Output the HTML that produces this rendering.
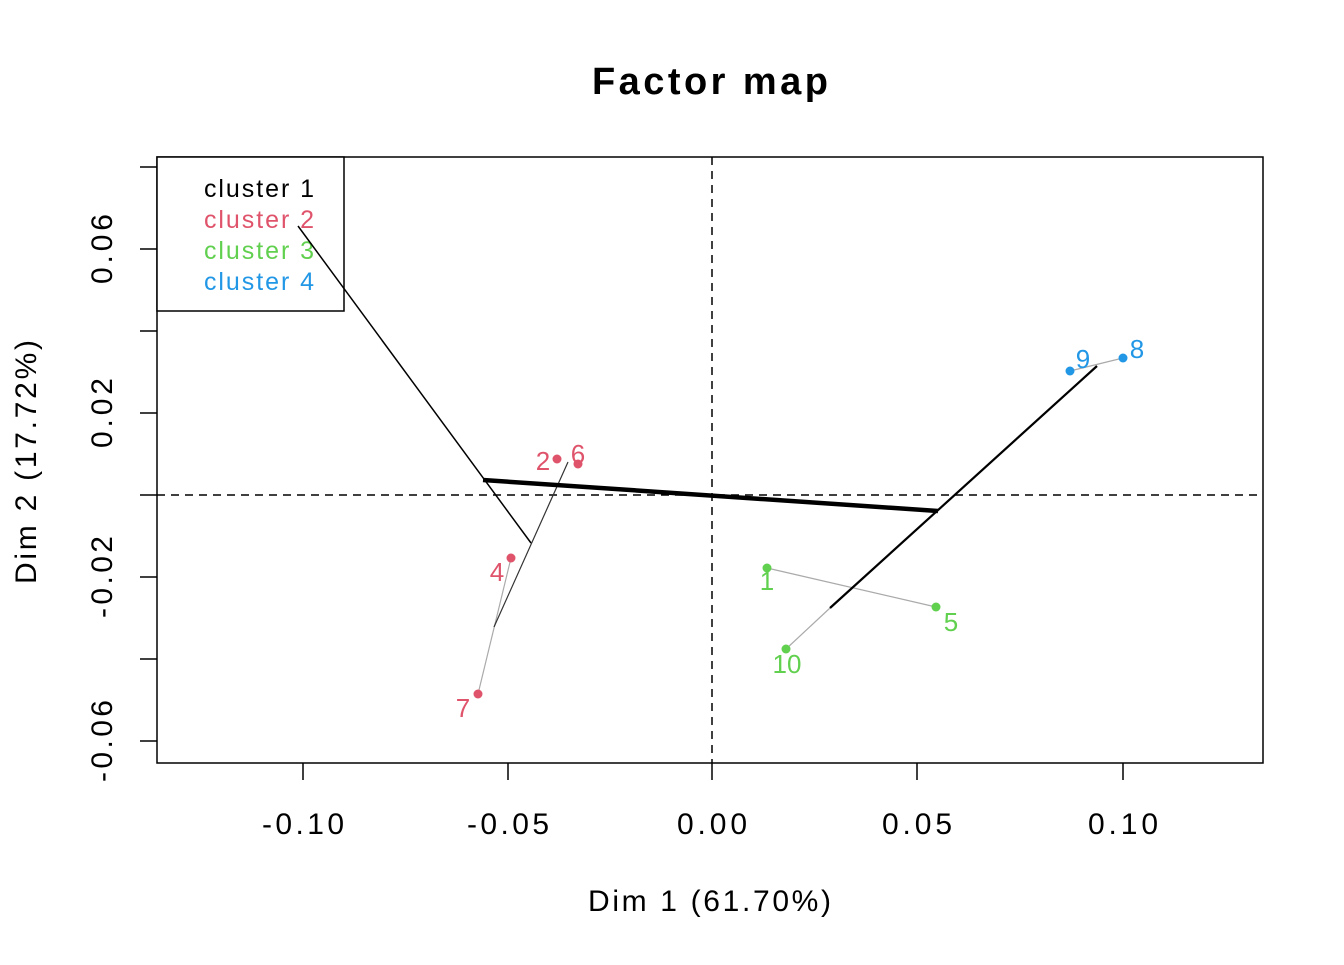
<!DOCTYPE html>
<html><head><meta charset="utf-8"><style>html,body{margin:0;padding:0;background:#fff}</style></head><body>
<svg width="1344" height="960" xmlns="http://www.w3.org/2000/svg" font-family="Liberation Sans, sans-serif">
<rect width="1344" height="960" fill="#fff"/>
<text x="592" y="94" font-size="38" font-weight="bold" textLength="236" lengthAdjust="spacing">Factor map</text>
<rect x="157" y="157" width="1106" height="606" fill="none" stroke="#000" stroke-width="1.5"/>
<line x1="712" y1="157" x2="712" y2="763" stroke="#000" stroke-width="1.5" stroke-dasharray="8,6"/>
<line x1="157" y1="495" x2="1263" y2="495" stroke="#000" stroke-width="1.5" stroke-dasharray="8,6"/>
<g stroke="#000" stroke-width="1.5">
<line x1="303" y1="763" x2="303" y2="780"/><line x1="508" y1="763" x2="508" y2="780"/><line x1="712" y1="763" x2="712" y2="780"/><line x1="917" y1="763" x2="917" y2="780"/><line x1="1123" y1="763" x2="1123" y2="780"/>
<line x1="140" y1="167" x2="157" y2="167"/><line x1="140" y1="249" x2="157" y2="249"/><line x1="140" y1="331" x2="157" y2="331"/><line x1="140" y1="413" x2="157" y2="413"/><line x1="140" y1="495" x2="157" y2="495"/><line x1="140" y1="577" x2="157" y2="577"/><line x1="140" y1="659" x2="157" y2="659"/><line x1="140" y1="741" x2="157" y2="741"/>
</g>
<g font-size="30">
<text x="262" y="834" textLength="82" lengthAdjust="spacing">-0.10</text>
<text x="467" y="834" textLength="82" lengthAdjust="spacing">-0.05</text>
<text x="677" y="834" textLength="70" lengthAdjust="spacing">0.00</text>
<text x="882" y="834" textLength="70" lengthAdjust="spacing">0.05</text>
<text x="1088" y="834" textLength="70" lengthAdjust="spacing">0.10</text>
<text transform="translate(112,284) rotate(-90)" textLength="70" lengthAdjust="spacing">0.06</text>
<text transform="translate(112,448) rotate(-90)" textLength="70" lengthAdjust="spacing">0.02</text>
<text transform="translate(112,618) rotate(-90)" textLength="82" lengthAdjust="spacing">-0.02</text>
<text transform="translate(112,782) rotate(-90)" textLength="82" lengthAdjust="spacing">-0.06</text>
<text x="588" y="911" textLength="243" lengthAdjust="spacing">Dim 1 (61.70%)</text>
<text transform="translate(36,584) rotate(-90)" textLength="244" lengthAdjust="spacing">Dim 2 (17.72%)</text>
</g>
<rect x="157" y="157" width="187" height="154" fill="#fff" stroke="#000" stroke-width="1.5"/>
<g font-size="25">
<text x="204" y="197" fill="#000" textLength="110" lengthAdjust="spacing">cluster 1</text>
<text x="204" y="228" fill="#DF536B" textLength="110" lengthAdjust="spacing">cluster 2</text>
<text x="204" y="259" fill="#61D04F" textLength="110" lengthAdjust="spacing">cluster 3</text>
<text x="204" y="290" fill="#2297E6" textLength="110" lengthAdjust="spacing">cluster 4</text>
</g>
<g stroke="#aaa" stroke-width="1.2">
<line x1="511" y1="558" x2="478" y2="694"/>
<line x1="767" y1="568" x2="936" y2="607"/>
<line x1="786" y1="649" x2="830" y2="608"/>
<line x1="1070" y1="371" x2="1123" y2="358"/>
</g>
<line x1="298" y1="226" x2="531" y2="543" stroke="#000" stroke-width="1.5"/>
<line x1="494" y1="627" x2="568" y2="462" stroke="#333" stroke-width="1.2"/>
<line x1="830" y1="608" x2="1097" y2="366" stroke="#000" stroke-width="2.2"/>
<line x1="483" y1="480" x2="938" y2="511" stroke="#000" stroke-width="4.5"/>
<g fill="#DF536B"><circle cx="557" cy="459" r="4.5"/><circle cx="578" cy="464" r="4.5"/><circle cx="511" cy="558" r="4.5"/><circle cx="478" cy="694" r="4.5"/></g>
<g fill="#61D04F"><circle cx="767" cy="568" r="4.5"/><circle cx="936" cy="607" r="4.5"/><circle cx="786" cy="649" r="4.5"/></g>
<g fill="#2297E6"><circle cx="1070" cy="371" r="4.5"/><circle cx="1123" cy="358" r="4.5"/></g>
<g font-size="26" text-anchor="middle">
<text x="543" y="470" fill="#DF536B">2</text><text x="578" y="463" fill="#DF536B">6</text>
<text x="497" y="581" fill="#DF536B">4</text><text x="463" y="717" fill="#DF536B">7</text>
<text x="767" y="590" fill="#61D04F">1</text><text x="951" y="631" fill="#61D04F">5</text><text x="787" y="673" fill="#61D04F">10</text>
<text x="1083" y="368" fill="#2297E6">9</text><text x="1137" y="358" fill="#2297E6">8</text>
</g>
</svg>
</body></html>
